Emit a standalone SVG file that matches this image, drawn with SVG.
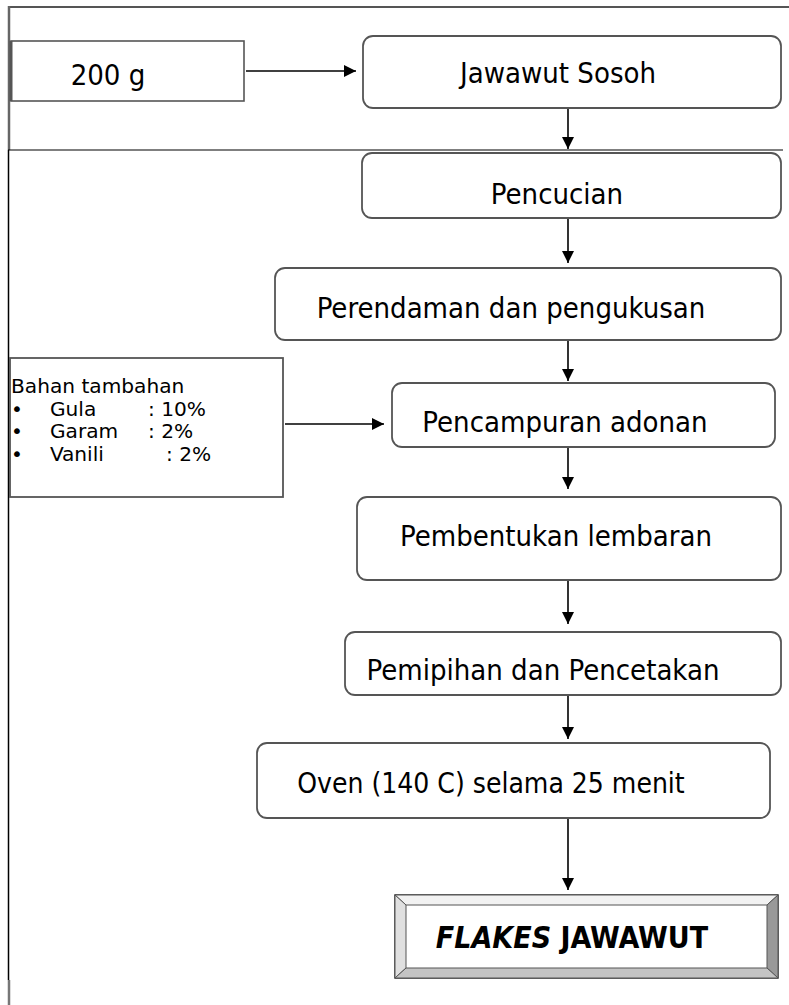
<svg xmlns="http://www.w3.org/2000/svg" width="789" height="1005" viewBox="0 0 789 1005">
<defs>
<style>
.box{fill:#fff;stroke:#555;stroke-width:1.8}
.t{font-family:"DejaVu Sans Condensed","DejaVu Sans",sans-serif;font-size:29px;fill:#000;text-anchor:middle}
.s{font-family:"DejaVu Sans Condensed","DejaVu Sans",sans-serif;font-size:20px;fill:#000}
.c{stroke:#000;stroke-width:1.6;fill:none;marker-end:url(#ah)}
</style>
<marker id="ah" viewBox="0 0 12 12" refX="12" refY="6" markerWidth="12" markerHeight="12" markerUnits="userSpaceOnUse" orient="auto">
<path d="M0,0 L12,6 L0,12 Z" fill="#000"/>
</marker>
</defs>
<rect width="789" height="1005" fill="#fff"/>
<g id="frame">
<line x1="8" y1="7" x2="789" y2="7" stroke="#555" stroke-width="2"/>
<line x1="9" y1="6" x2="9" y2="150" stroke="#666" stroke-width="2.5"/>
<line x1="8" y1="150" x2="783" y2="150" stroke="#000" stroke-width="1.2"/>
<line x1="8.5" y1="150" x2="8.5" y2="980" stroke="#000" stroke-width="1.5"/>
<line x1="9" y1="980" x2="9" y2="1005" stroke="#777" stroke-width="2.5"/>
</g>
<g id="connectors">
<line class="c" x1="246" y1="71" x2="356" y2="71"/>
<line class="c" x1="568" y1="108" x2="568" y2="149"/>
<line class="c" x1="568" y1="218" x2="568" y2="263"/>
<line class="c" x1="568" y1="340" x2="568" y2="381"/>
<line class="c" x1="285" y1="424" x2="384" y2="424"/>
<line class="c" x1="568" y1="447" x2="568" y2="489"/>
<line class="c" x1="568" y1="580" x2="568" y2="624"/>
<line class="c" x1="568" y1="695" x2="568" y2="739"/>
<line class="c" x1="568" y1="818" x2="568" y2="890"/>
</g>
<g id="n200">
<rect x="11" y="41" width="233" height="60" fill="#fff" stroke="#555" stroke-width="1.6"/>
<line x1="11" y1="41" x2="11" y2="101" stroke="#555" stroke-width="3"/>
<text class="t" x="108" y="85">200 g</text>
</g>
<g id="nJawawut">
<rect class="box" x="363" y="36" width="418" height="72" rx="10"/>
<text class="t" x="558" y="83">Jawawut Sosoh</text>
</g>
<g id="nPencucian">
<rect class="box" x="362" y="153" width="419" height="65" rx="10"/>
<text class="t" x="557" y="204">Pencucian</text>
</g>
<g id="nPerendaman">
<rect class="box" x="275" y="268" width="506" height="72" rx="10"/>
<text class="t" x="511" y="318">Perendaman dan pengukusan</text>
</g>
<g id="nBahan">
<rect x="10" y="358" width="273" height="139" fill="#fff" stroke="#555" stroke-width="1.8"/>
<g transform="translate(11,0) scale(1.12,1)">
<text class="s" x="0" y="393">Bahan tambahan</text>
<text class="s" x="0" y="416">•</text><text class="s" x="34.8" y="416">Gula</text><text class="s" x="122.3" y="416">: 10%</text>
<text class="s" x="0" y="438">•</text><text class="s" x="34.8" y="438">Garam</text><text class="s" x="122.3" y="438">: 2%</text>
<text class="s" x="0" y="461">•</text><text class="s" x="34.8" y="461">Vanili</text><text class="s" x="138.4" y="461">: 2%</text>
</g>
</g>
<g id="nPencampuran">
<rect class="box" x="392" y="383" width="383" height="64" rx="10"/>
<text class="t" x="565" y="432">Pencampuran adonan</text>
</g>
<g id="nPembentukan">
<rect class="box" x="357" y="497" width="424" height="83" rx="10"/>
<text class="t" x="556" y="546">Pembentukan lembaran</text>
</g>
<g id="nPemipihan">
<rect class="box" x="345" y="632" width="436" height="63" rx="10"/>
<text class="t" x="543" y="680">Pemipihan dan Pencetakan</text>
</g>
<g id="nOven">
<rect class="box" x="257" y="743" width="513" height="75" rx="10"/>
<text class="t" x="491" y="793" style="font-size:28px">Oven (140 C) selama 25 menit</text>
</g>
<g id="nFlakes">
<rect x="395" y="895" width="383" height="83" fill="#fff" stroke="#333" stroke-width="1.5"/>
<polygon points="395,895 778,895 767,905 406,905" fill="#f2f2f2" stroke="#555" stroke-width="1"/>
<polygon points="395,895 406,905 406,968 395,978" fill="#e0e0e0" stroke="#555" stroke-width="1"/>
<polygon points="778,895 778,978 767,968 767,905" fill="#999" stroke="#555" stroke-width="1"/>
<polygon points="395,978 406,968 767,968 778,978" fill="#c4c4c4" stroke="#555" stroke-width="1"/>
<text x="572" y="948" font-family="'DejaVu Sans Condensed','DejaVu Sans',sans-serif" font-size="30" font-weight="bold" text-anchor="middle"><tspan font-style="italic">FLAKES</tspan> JAWAWUT</text>
</g>
</svg>
